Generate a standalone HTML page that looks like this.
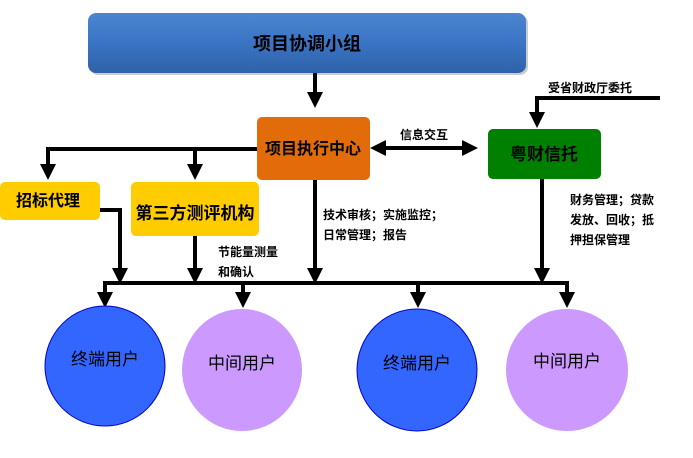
<!DOCTYPE html>
<html><head><meta charset="utf-8"><style>
html,body{margin:0;padding:0;background:#fff;}
svg{display:block;font-family:"Liberation Sans","Noto Sans CJK SC",sans-serif;}
</style></head><body>
<svg width="693" height="458" viewBox="0 0 693 458" xmlns="http://www.w3.org/2000/svg">
<defs>
<linearGradient id="g" x1="0" y1="0" x2="0" y2="1">
<stop offset="0" stop-color="#4a86d0"/><stop offset="0.5" stop-color="#3a74c4"/><stop offset="1" stop-color="#2f62a8"/>
</linearGradient>
<marker id="a" markerWidth="4" markerHeight="4" refX="2" refY="2" orient="auto" markerUnits="strokeWidth">
<path d="M0,0 L4,2 L0,4 z" fill="#000"/></marker>
</defs>
<rect x="90" y="15" width="438" height="60" rx="8" fill="#999" opacity="0.5"/>
<rect x="88" y="13" width="438" height="60" rx="8" fill="url(#g)"/>
<text x="307" y="50" font-size="18" font-weight="bold" text-anchor="middle">项目协调小组</text>

<g stroke="#000" stroke-width="4" fill="none">
<line x1="315" y1="73" x2="315" y2="100" marker-end="url(#a)"/>
<polyline points="257,149 48,149 48,172" marker-end="url(#a)"/>
<line x1="195" y1="149" x2="195" y2="172" marker-end="url(#a)"/>
<line x1="378" y1="148" x2="470" y2="148" marker-end="url(#a)"/>
<line x1="470" y1="148" x2="378" y2="148" marker-end="url(#a)"/>
<polyline points="660,98 537,98 537,120" marker-end="url(#a)"/>
<polyline points="100,210 120,210 120,276" marker-end="url(#a)"/>
<line x1="195" y1="236" x2="195" y2="276" marker-end="url(#a)"/>
<line x1="315" y1="180" x2="315" y2="276" marker-end="url(#a)"/>
<line x1="542" y1="179" x2="542" y2="276" marker-end="url(#a)"/>
<polyline points="103,283 567,283 567,300" marker-end="url(#a)"/>
<line x1="105" y1="281" x2="105" y2="300" marker-end="url(#a)"/>
<line x1="243" y1="283" x2="243" y2="300" marker-end="url(#a)"/>
<line x1="418" y1="283" x2="418" y2="300" marker-end="url(#a)"/>
</g>

<rect x="257" y="117" width="113" height="63" rx="5" fill="#e36c0a"/>
<text x="313" y="154" font-size="16" font-weight="bold" text-anchor="middle">项目执行中心</text>
<rect x="488" y="129" width="113" height="50" rx="5" fill="#008000"/>
<text x="544" y="160" font-size="17" font-weight="bold" text-anchor="middle">粤财信托</text>
<rect x="0" y="182" width="100" height="38" rx="5" fill="#ffcc00"/>
<text x="48" y="206" font-size="16" font-weight="bold" text-anchor="middle">招标代理</text>
<rect x="131" y="182" width="128" height="54" rx="5" fill="#ffcc00"/>
<text x="195" y="219" font-size="17" font-weight="bold" text-anchor="middle">第三方测评机构</text>

<g font-size="12" font-weight="bold">
<text x="400" y="139">信息交互</text>
<text x="548" y="92">受省财政厅委托</text>
<text x="323" y="219">技术审核；实施监控；</text>
<text x="323" y="239">日常管理；报告</text>
<text x="218" y="256">节能量测量</text>
<text x="218" y="276">和确认</text>
<text x="570" y="204">财务管理；贷款</text>
<text x="570" y="224">发放、回收；抵</text>
<text x="570" y="244">押担保管理</text>
</g>

<ellipse cx="105" cy="366" rx="60" ry="60" fill="#3366ff" stroke="#0000cc" stroke-width="1"/>
<ellipse cx="242" cy="370" rx="60" ry="61" fill="#cc99ff"/>
<ellipse cx="417" cy="370" rx="60" ry="61" fill="#3366ff" stroke="#0000cc" stroke-width="1"/>
<ellipse cx="567" cy="370" rx="61" ry="61" fill="#cc99ff"/>
<g font-size="17" text-anchor="middle">
<text x="105" y="365">终端用户</text>
<text x="242" y="369">中间用户</text>
<text x="417" y="369">终端用户</text>
<text x="567" y="367">中间用户</text>
</g>
</svg>
</body></html>
